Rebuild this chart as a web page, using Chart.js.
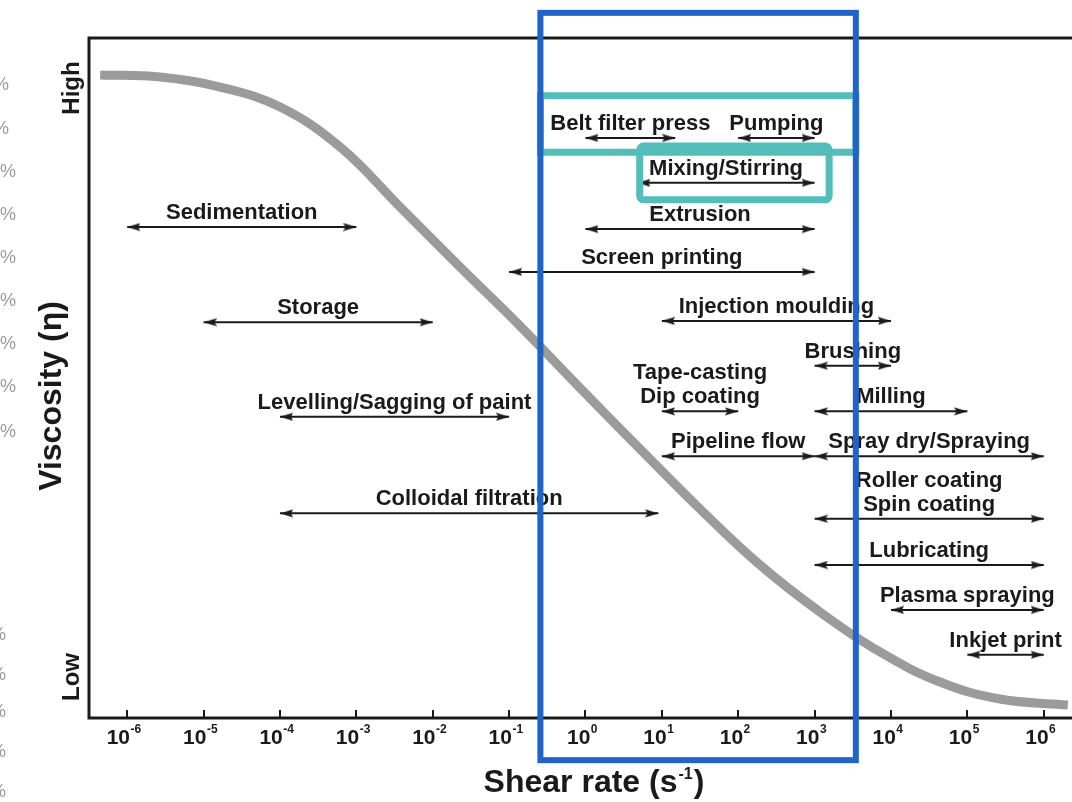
<!DOCTYPE html>
<html>
<head>
<meta charset="utf-8">
<script src="https://cdn.jsdelivr.net/npm/chart.js@4"></script>
<style>
  html, body { margin: 0; padding: 0; background: #fff; overflow: hidden; }
  canvas { display: block; }
</style>
</head>
<body>
<canvas id="c" width="1072" height="802"></canvas>
<script>
// Decades of shear rate labelled on the axis (powers of ten)
const tickExponents = [-6, -5, -4, -3, -2, -1, 0, 1, 2, 3, 4, 5, 6];

// Generic shear-thinning flow curve: shear rate (1/s) vs relative viscosity
const curveRate = [4.43e-7, 2.70e-6, 1.65e-5, 1.006e-4, 6.14e-4, 3.74e-3, 0.0228, 0.139, 0.850, 5.18, 31.6, 193, 1177, 7180, 4.38e4, 2.67e5, 2.07e6];
const curveViscosity = [94.56, 94.26, 92.79, 89.85, 83.97, 75.15, 66.32, 57.65, 48.53, 39.56, 30.74, 22.50, 15.59, 9.71, 5.29, 2.79, 1.91];

// Processes with their typical shear-rate window and the height they sit at
const processNames = [
  ["Sedimentation"], ["Storage"], ["Levelling/Sagging of paint"], ["Colloidal filtration"],
  ["Belt filter press"], ["Pumping"], ["Mixing/Stirring"], ["Extrusion"], ["Screen printing"],
  ["Injection moulding"], ["Brushing"], ["Tape-casting", "Dip coating"], ["Milling"],
  ["Pipeline flow"], ["Spray dry/Spraying"], ["Roller coating", "Spin coating"],
  ["Lubricating"], ["Plasma spraying"], ["Inkjet print"]
];
const rateFrom = [1e-6, 1e-5, 1e-4, 1e-4, 1, 100, 4.8, 1, 0.1, 10, 1e3, 10, 1e3, 10, 1e3, 1e3, 1e3, 1e4, 1e5];
const rateTo   = [1e-3, 1e-2, 1e-1, 9, 15, 1e3, 1e3, 1e3, 1e3, 1e4, 1e4, 100, 1e5, 1e3, 1e6, 1e6, 1e6, 1e6, 1e6];
const processLevel = [72.2, 58.2, 44.3, 30.1, 85.3, 85.3, 78.7, 71.9, 65.6, 58.4, 51.8, 45.1, 45.1, 38.5, 38.5, 29.3, 22.5, 15.9, 9.3];

// Highlighted windows (shear-rate span, viscosity span)
const blueBoxRate = [0.257, 3467];
const blueBoxLevel = [103.7, -6.2];
const tealBoxRate = [[0.257, 3467], [5.13, 1549]];
const tealBoxLevel = [[91.5, 83.2], [84.1, 76.2]];

const FONT = "'Liberation Sans', Arial, Helvetica, sans-serif";
const INK = '#1a1a1a';

// Arrowhead sprites: the tip sits at the sprite centre so it lands on the data point
function makeHead(pointsLeft) {
  const L = 13, H = 9;
  const c = document.createElement('canvas');
  c.width = 2 * L; c.height = H;
  const g = c.getContext('2d');
  g.fillStyle = INK;
  g.beginPath();
  if (pointsLeft) {
    g.moveTo(L, H / 2); g.lineTo(2 * L, 0.5); g.lineTo(2 * L - 2, H / 2); g.lineTo(2 * L, H - 0.5);
  } else {
    g.moveTo(L, H / 2); g.lineTo(0, 0.5); g.lineTo(2, H / 2); g.lineTo(0, H - 0.5);
  }
  g.closePath();
  g.fill();
  return c;
}
const headLeft = makeHead(true);
const headRight = makeHead(false);

const curveDataset = {
  data: curveRate.map((r, i) => ({ x: r, y: curveViscosity[i] })),
  borderColor: '#9b9b9b',
  borderWidth: 9,
  borderCapStyle: 'butt',
  pointRadius: 0,
  tension: 0.4,
  fill: false,
  clip: false,
  order: 2
};

const arrowDatasets = processNames.map((name, i) => ({
  data: [{ x: rateFrom[i], y: processLevel[i] }, { x: rateTo[i], y: processLevel[i] }],
  borderColor: INK,
  borderWidth: 2,
  pointRadius: 6,
  pointStyle: (ctx) => (ctx.dataIndex === 0 ? headLeft : headRight),
  fill: false,
  clip: false,
  order: 1
}));

function rotatedText(ctx, text, x, y, font) {
  ctx.save();
  ctx.translate(x, y);
  ctx.rotate(-Math.PI / 2);
  ctx.font = font;
  ctx.textAlign = 'center';
  ctx.textBaseline = 'alphabetic';
  ctx.fillText(text, 0, 0);
  ctx.restore();
}

const decor = {
  id: 'decor',
  afterDatasetsDraw(chart) {
    const { ctx, chartArea: a, scales: { x, y } } = chart;
    ctx.save();

    // Frame: top, left and bottom axis lines
    ctx.strokeStyle = INK;
    ctx.lineWidth = 3;
    ctx.lineCap = 'square';
    ctx.beginPath();
    ctx.moveTo(a.right + 3, a.top);
    ctx.lineTo(a.left, a.top);
    ctx.lineTo(a.left, a.bottom);
    ctx.lineTo(a.right + 3, a.bottom);
    ctx.stroke();

    // Decade ticks pointing into the plot
    ctx.lineWidth = 2;
    ctx.lineCap = 'butt';
    tickExponents.forEach(e => {
      const px = Math.round(x.getPixelForValue(Math.pow(10, e)));
      ctx.beginPath();
      ctx.moveTo(px, a.bottom);
      ctx.lineTo(px, a.bottom - 8);
      ctx.stroke();
    });

    // Tick labels as 10 with a superscript exponent
    ctx.fillStyle = INK;
    ctx.textAlign = 'left';
    ctx.textBaseline = 'alphabetic';
    const bigF = `bold 21px ${FONT}`, supF = `bold 12px ${FONT}`;
    tickExponents.forEach(e => {
      const px = x.getPixelForValue(Math.pow(10, e));
      const sup = String(e);
      ctx.font = bigF; const w1 = ctx.measureText('10').width;
      ctx.font = supF; const w2 = ctx.measureText(sup).width;
      const x0 = px - 3.5 - (w1 + w2) / 2;
      ctx.font = bigF; ctx.fillText('10', x0, a.bottom + 26);
      ctx.font = supF; ctx.fillText(sup, x0 + w1 + 0.5, a.bottom + 15);
    });

    // X axis title with superscript unit
    const tF = `bold 32px ${FONT}`, tsF = `bold 16px ${FONT}`;
    const part1 = 'Shear rate (s', part2 = '-1', part3 = ')';
    ctx.font = tF; const t1 = ctx.measureText(part1).width, t3 = ctx.measureText(part3).width;
    ctx.font = tsF; const t2 = ctx.measureText(part2).width;
    let tx = 594 - (t1 + t2 + t3 + 2) / 2;
    ctx.font = tF; ctx.fillText(part1, tx, 792); tx += t1 + 1;
    ctx.font = tsF; ctx.fillText(part2, tx, 779); tx += t2 + 1;
    ctx.font = tF; ctx.fillText(part3, tx, 792);

    // Y axis title and ends
    rotatedText(ctx, 'Viscosity (η)', 61, 396, `bold 32px ${FONT}`);
    rotatedText(ctx, 'High', 79, 88, `bold 24px ${FONT}`);
    rotatedText(ctx, 'Low', 79, 677, `bold 24px ${FONT}`);

    // Process labels centred above their arrows
    ctx.font = `bold 22px ${FONT}`;
    ctx.textAlign = 'center';
    processNames.forEach((lines, i) => {
      const xl = x.getPixelForValue(rateFrom[i]);
      const xr = x.getPixelForValue(rateTo[i]);
      const yy = y.getPixelForValue(processLevel[i]);
      const cx = (xl + xr) / 2;
      const n = lines.length;
      lines.forEach((t, k) => {
        ctx.fillText(t, cx, yy - 8 - (n - 1 - k) * 24);
      });
    });

    // Clipped glyphs along the left margin
    ctx.fillStyle = '#9a9a9a';
    ctx.font = `18px ${FONT}`;
    ctx.textAlign = 'right';
    [90, 134].forEach(yy => ctx.fillText('%', 9, yy));
    [177, 220, 263, 306, 349, 392, 437].forEach(yy => ctx.fillText('2%', 16, yy));
    [640, 680, 717, 757, 797].forEach(yy => ctx.fillText('%', 6, yy));

    // Highlight boxes
    ctx.strokeStyle = '#53bdb9';
    ctx.lineWidth = 7;
    tealBoxRate.forEach((r, i) => {
      const x0 = x.getPixelForValue(r[0]), x1 = x.getPixelForValue(r[1]);
      const y0 = y.getPixelForValue(tealBoxLevel[i][0]), y1 = y.getPixelForValue(tealBoxLevel[i][1]);
      ctx.beginPath();
      if (ctx.roundRect) ctx.roundRect(x0, y0, x1 - x0, y1 - y0, i === 1 ? 4 : 0);
      else ctx.rect(x0, y0, x1 - x0, y1 - y0);
      ctx.stroke();
    });
    ctx.strokeStyle = '#1f64c8';
    ctx.lineWidth = 6;
    {
      const x0 = x.getPixelForValue(blueBoxRate[0]), x1 = x.getPixelForValue(blueBoxRate[1]);
      const y0 = y.getPixelForValue(blueBoxLevel[0]), y1 = y.getPixelForValue(blueBoxLevel[1]);
      ctx.strokeRect(x0, y0, x1 - x0, y1 - y0);
    }
    ctx.restore();
  }
};

new Chart(document.getElementById('c'), {
  type: 'line',
  data: { datasets: [curveDataset, ...arrowDatasets] },
  options: {
    responsive: false,
    animation: false,
    events: [],
    layout: { autoPadding: false, padding: { left: 89, top: 38, right: 0, bottom: 84 } },
    plugins: { legend: { display: false }, tooltip: { enabled: false } },
    scales: {
      x: { type: 'logarithmic', bounds: 'data', min: Math.pow(10, -6.5), max: Math.pow(10, 6.37), display: false },
      y: { type: 'linear', min: 0, max: 100, display: false }
    }
  },
  plugins: [decor]
});
</script>
</body>
</html>
